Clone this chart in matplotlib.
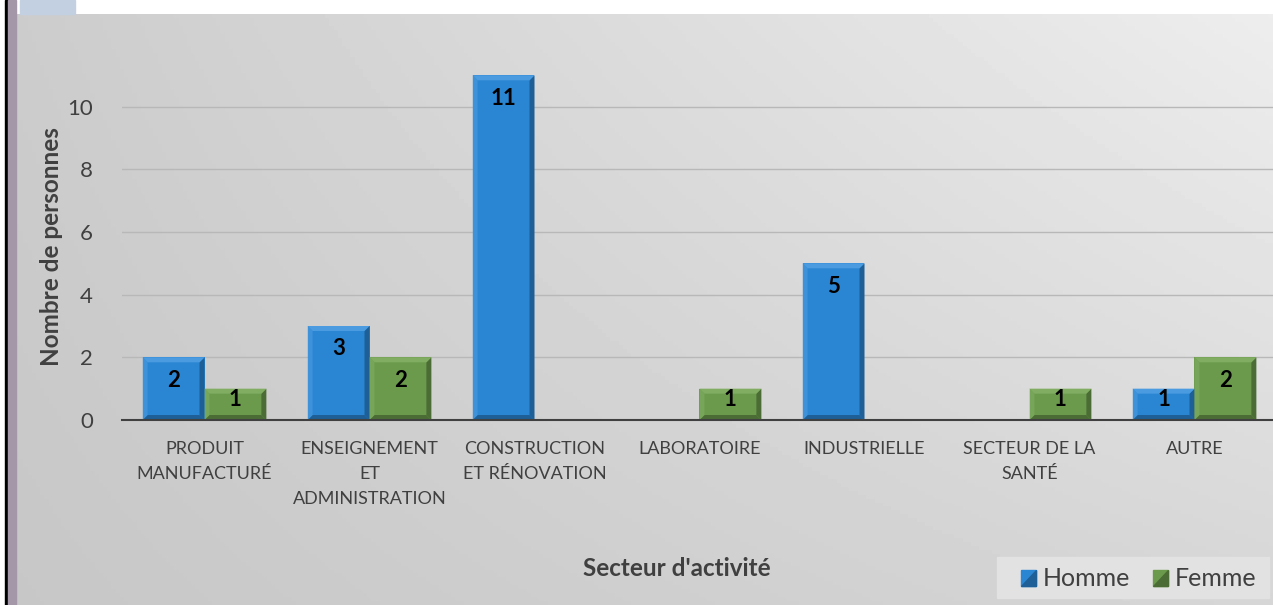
import matplotlib.pyplot as plt
import numpy as np
from matplotlib.patches import Polygon, Rectangle

# ==========================================
# data
# ==========================================
secteurs = ["PRODUIT\nMANUFACTURÉ", "ENSEIGNEMENT\nET\nADMINISTRATION", "CONSTRUCTION\nET RÉNOVATION",
            "LABORATOIRE", "INDUSTRIELLE", "SECTEUR DE LA\nSANTÉ", "AUTRE"]
homme = [2, 3, 11, 0, 5, 0, 1]
femme = [1, 2, 0, 1, 0, 1, 2]
yticks = [0, 2, 4, 6, 8, 10]

c_homme = '#2a86d2'
c_femme = '#6b9a4c'
plt.rcParams['font.family'] = ['Lato', 'DejaVu Sans']

fig = plt.figure(figsize=(12.73, 6.05), dpi=100)
fig.patch.set_facecolor('white')

# background panel (gradient)
bg = fig.add_axes([15 / 1273, 0, 1 - 15 / 1273, (605 - 14) / 605], zorder=0)
xx = np.linspace(0, 1, 300)
yy = np.linspace(0, 1, 150)
X, Y = np.meshgrid(xx, yy)
grad = 0.80 + 0.13 * X * (1 - 0.55 * Y) - 0.02 * Y
bg.imshow(grad, cmap='gray', vmin=0, vmax=1, aspect='auto', extent=[0, 1, 0, 1], origin='upper')
bg.set_axis_off()

# left decoration
fig.patches.append(Rectangle((5 / 1273, 0), 2.5 / 1273, 1, transform=fig.transFigure, color='black', zorder=5))
fig.patches.append(Rectangle((7.5 / 1273, 0), 8 / 1273, 1, transform=fig.transFigure, color='#a498a8', zorder=5))
fig.patches.append(Rectangle((20 / 1273, (605 - 14) / 605), 55 / 1273, 14 / 605, transform=fig.transFigure,
                             color='#c2d0e2', zorder=5))

ax = fig.add_axes([122 / 1273, (605 - 420) / 605, 1155 / 1273, 376 / 605], zorder=2)
ax.patch.set_alpha(0)

n = len(secteurs)
x = np.arange(n)
w = 0.375
bars_h = ax.bar(x - w / 2, homme, w, color=c_homme, zorder=3)
bars_f = ax.bar(x + w / 2, femme, w, color=c_femme, zorder=3)

# bevel edges + labels
bx = 5 / 165
by = 5 / 31.35
def bevel(bars, dark, light):
    for b in bars:
        h = b.get_height()
        if h <= 0:
            continue
        x0 = b.get_x(); x1 = x0 + b.get_width()
        ax.add_patch(Polygon([[x1 - bx, by], [x1, 0], [x1, h], [x1 - bx, h - by]], color=dark, zorder=4, lw=0))
        ax.add_patch(Polygon([[x0, 0], [x1, 0], [x1 - bx, by], [x0 + bx, by]], color=dark, zorder=4, lw=0))
        ax.add_patch(Polygon([[x0, h], [x1, h], [x1 - bx, h - by], [x0 + bx, h - by]], color=light, zorder=4, lw=0))
        ax.add_patch(Polygon([[x0, 0], [x0 + bx, by], [x0 + bx, h - by], [x0, h]], color=light, alpha=0.6, zorder=4, lw=0))
        off = min(0.73, h - 0.65)
        ax.text(b.get_x() + b.get_width() / 2, h - off, str(h), ha='center', va='center',
                fontsize=16, fontweight='bold', color='black', zorder=5)

bevel(bars_h, '#1d5f96', '#4a9be0')
bevel(bars_f, '#4b6d35', '#80ad62')

ax.set_xlim(-0.5, n - 0.5)
ax.set_ylim(0, 12)
ax.set_yticks(yticks)
ax.set_xticks(x)
ax.set_xticklabels(secteurs, fontsize=13, color='#404040', linespacing=1.7, va='top')
ax.tick_params(axis='y', length=0, pad=21, labelsize=16, labelcolor='#404040')
ax.tick_params(axis='x', length=0, pad=15)
for s in ['top', 'right', 'left']:
    ax.spines[s].set_visible(False)
ax.spines['bottom'].set_color('#404040')
ax.spines['bottom'].set_linewidth(1.5)
ax.spines['bottom'].set_zorder(5)
ax.yaxis.grid(True, color='#b8b8b8', linewidth=1, zorder=1)
ax.set_axisbelow(True)

fig.text(52 / 1273, 1 - 247 / 605, "Nombre de personnes", rotation=90, ha='center', va='center',
         fontsize=17.5, fontweight='bold', color='#404040')
fig.text(677 / 1273, 1 - 568 / 605, "Secteur d'activité", ha='center', va='center',
         fontsize=17.5, fontweight='bold', color='#404040')

# legend
fig.patches.append(Rectangle((997 / 1273, 1 - 598 / 605), 272 / 1273, 41 / 605, transform=fig.transFigure,
                             color='#e2e2e2', zorder=5))
for xs, col, dark, lab in [(1021, c_homme, '#1d5f96', 'Homme'), (1153, c_femme, '#4b6d35', 'Femme')]:
    fig.patches.append(Rectangle((xs / 1273, 1 - 586 / 605), 15 / 1273, 16 / 605, transform=fig.transFigure,
                                 color=col, zorder=6))
    fig.patches.append(Polygon([[xs / 1273, 1 - 586 / 605], [(xs + 15) / 1273, 1 - 586 / 605],
                                [(xs + 15) / 1273, 1 - 570 / 605]], closed=True, transform=fig.transFigure,
                               color=dark, zorder=7))
    fig.text((xs + 22) / 1273, 1 - 578 / 605, lab, ha='left', va='center', fontsize=18, color='#404040', zorder=8)

plt.savefig("out.png", dpi=100)
